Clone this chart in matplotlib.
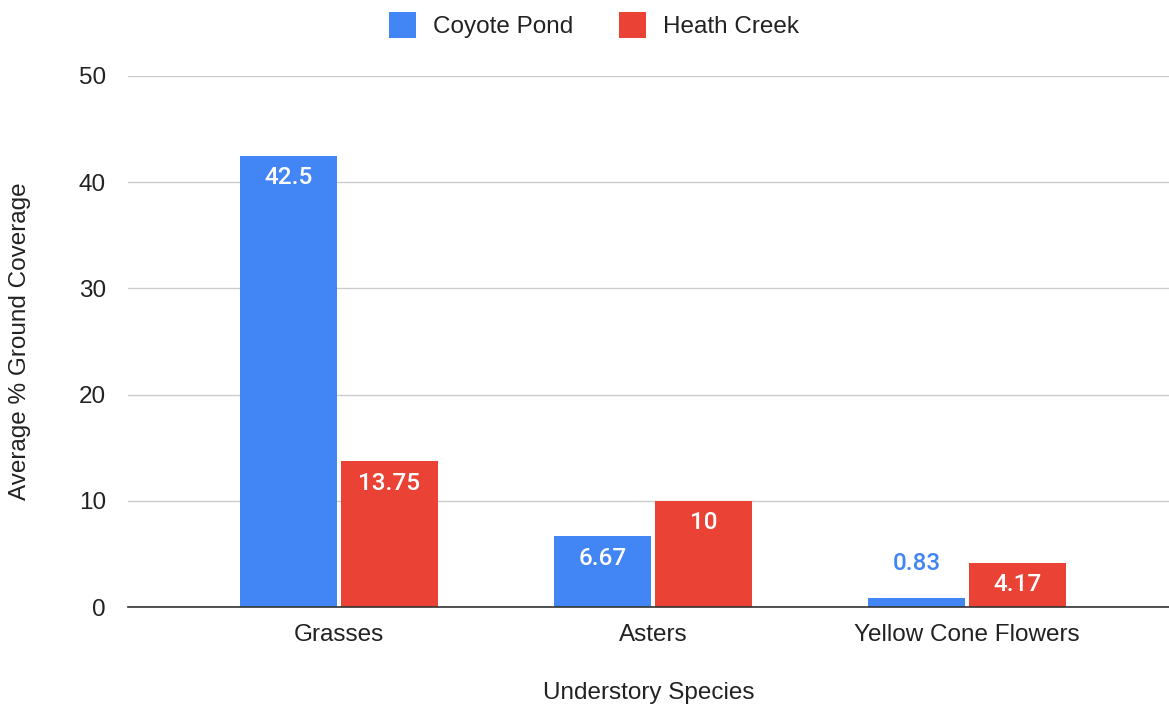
import numpy as np
import matplotlib.pyplot as plt

species = ['Grasses', 'Asters', 'Yellow Cone Flowers']
coyote_pond = [42.5, 6.67, 0.83]
heath_creek = [13.75, 10, 4.17]
coyote_labels = ['42.5', '6.67', '0.83']
heath_labels = ['13.75', '10', '4.17']
yticks = [0, 10, 20, 30, 40, 50]

blue = '#4285F4'
red = '#EA4335'

plt.rcParams['font.family'] = ['Liberation Sans', 'DejaVu Sans']

fig = plt.figure(figsize=(11.69, 7.06), dpi=100)
ax = fig.add_axes([128 / 1169, 1 - 607 / 706, 1041 / 1169, 531 / 706])

x = np.arange(len(species))
w = 0.309
gap = 0.0064
b1 = ax.bar(x - w / 2 - gap, coyote_pond, w, color=blue, label='Coyote Pond', zorder=3)
b2 = ax.bar(x + w / 2 + gap, heath_creek, w, color=red, label='Heath Creek', zorder=3)

lab_font = dict(family=['Roboto', 'DejaVu Sans'], fontsize=17.5, fontweight='medium')
for bars, vals, labs, col in [(b1, coyote_pond, coyote_labels, blue), (b2, heath_creek, heath_labels, red)]:
    for rect, v, t in zip(bars, vals, labs):
        cx = rect.get_x() + rect.get_width() / 2
        if v > 3:
            ax.text(cx, v - 1.0, t, ha='center', va='top', color='white', **lab_font)
        else:
            ax.text(cx, v + 2.2, t, ha='center', va='bottom', color=col, **lab_font)

fs = 17.5
ax.set_xlim(-0.672, 2.643)
ax.set_ylim(0, 50)
ax.set_yticks(yticks)
ax.set_xticks(x)
ax.set_xticklabels(species)
ax.tick_params(axis='both', length=0, labelsize=fs, colors='#222222')
ax.tick_params(axis='y', pad=16)
ax.tick_params(axis='x', pad=12)
ax.grid(axis='y', color='#cccccc', linewidth=1, zorder=0)
for s in ['top', 'right', 'left']:
    ax.spines[s].set_visible(False)
ax.spines['bottom'].set_color('#333333')
ax.spines['bottom'].set_linewidth(1.2)
ax.spines['bottom'].set_zorder(4)

ax.set_ylabel('Average % Ground Coverage', fontsize=fs, color='#222222', labelpad=34)
ax.set_xlabel('Understory Species', fontsize=fs, color='#222222', labelpad=26)

leg = fig.legend(handles=[b1, b2], loc='center', bbox_to_anchor=(594 / 1169, 1 - 25 / 706),
                 ncol=2, frameon=False, fontsize=fs, handlelength=1.1, handleheight=1.25,
                 handletextpad=0.7, columnspacing=1.9)
for t in leg.get_texts():
    t.set_color('#222222')

fig.savefig('out.png', dpi=100)
